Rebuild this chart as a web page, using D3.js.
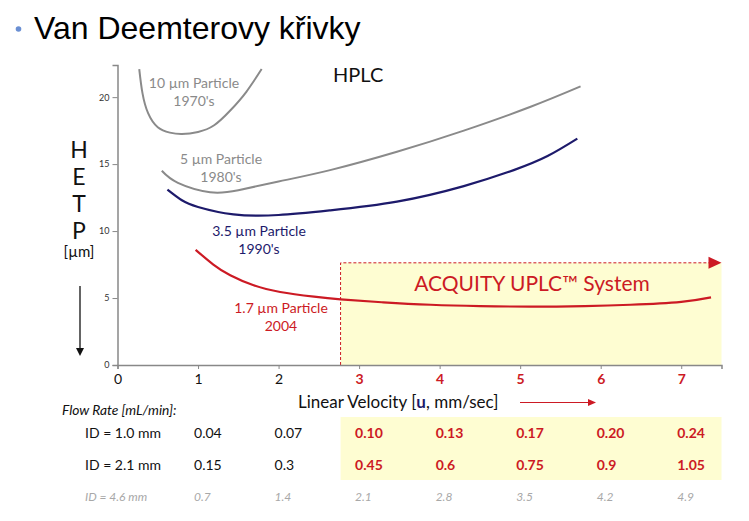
<!DOCTYPE html>
<html>
<head>
<meta charset="utf-8">
<script src="https://cdn.jsdelivr.net/npm/d3@7"></script>
<style>
  body { margin: 0; background: #fff; }
  svg { display: block; }
  .chart-text { font-family: Lato, "Open Sans", sans-serif; }
</style>
</head>
<body>
<svg id="chart"></svg>
<script>

// axis ticks
var xTicks = [0, 1, 2, 3, 4, 5, 6, 7];
var yTicks = [0, 5, 10, 15, 20];

// van deemter curves [linear velocity, HETP]
var curve10 = [[0.27, 22.1], [0.31, 20.3], [0.38, 18.8], [0.50, 17.75], [0.65, 17.35], [0.80, 17.25],
    [1.0, 17.4], [1.2, 17.9], [1.4, 19.0], [1.6, 20.4], [1.79, 22.1]];
var curve5 = [[0.55, 14.5], [0.75, 13.6], [1.15, 12.9], [1.5, 13.05], [2.0, 13.7], [2.64, 14.55],
    [3.47, 15.92], [4.30, 17.5], [5.13, 19.28], [5.75, 20.8]];
var curve35 = [[0.62, 13.1], [0.8, 12.3], [1.0, 11.8], [1.44, 11.25], [2.0, 11.2], [2.64, 11.55],
    [3.47, 12.2], [4.30, 13.36], [4.92, 14.55], [5.34, 15.6], [5.71, 16.9]];
var curve17 = [[0.97, 8.6], [1.19, 7.5], [1.40, 6.7], [1.69, 5.95], [2.02, 5.45], [2.44, 5.1], [2.77, 4.9],
    [3.3, 4.68], [3.89, 4.5], [4.5, 4.4], [5.13, 4.36], [5.8, 4.4], [6.37, 4.5], [7.0, 4.72], [7.37, 5.05]];

// flow rate table rows (one value per velocity tick 1..7)
var flowVelocities = [1, 2, 3, 4, 5, 6, 7];
var flowId10 = ["0.04", "0.07", "0.10", "0.13", "0.17", "0.20", "0.24"];
var flowId21 = ["0.15", "0.3", "0.45", "0.6", "0.75", "0.9", "1.05"];
var flowId46 = ["0.7", "1.4", "2.1", "2.8", "3.5", "4.2", "4.9"];

// UPLC region starts at this velocity
var uplcStart = 2.77;
var uplcTop = 7.63;

var red = "#cc1a24";
var navy = "#1d1a6b";
var gray = "#8a8a8a";

var svg = d3.select('#chart')
    .attr("width", 749)
    .attr("height", 521);

// title
svg.append("circle")
    .attr("cx", 18.5).attr("cy", 29).attr("r", 2.8)
    .attr("fill", "#6a8fd3");
svg.append("text")
    .text("Van Deemterovy křivky")
    .attr("x", 34).attr("y", 39)
    .attr("font-family", "'Liberation Sans', Arial, sans-serif")
    .attr("font-size", "32px")
    .attr("fill", "#000");

// scales
var xScale = d3.scaleLinear().domain([0, 7.5]).range([117.5, 721.5]);
var yScale = d3.scaleLinear().domain([0, 22.4]).range([365, 65]);

var g = svg.append("g").attr("class", "chart-text");

// UPLC region box
g.append("rect")
    .attr("x", xScale(uplcStart))
    .attr("y", yScale(uplcTop))
    .attr("width", xScale(7.5) - xScale(uplcStart))
    .attr("height", yScale(0) - yScale(uplcTop))
    .attr("fill", "#fefdd2");
g.append("path")
    .attr("d", "M" + xScale(uplcStart) + "," + yScale(0) + "V" + yScale(uplcTop) + "H" + (xScale(7.5) - 12))
    .attr("fill", "none")
    .attr("stroke", red)
    .attr("stroke-width", 1)
    .attr("stroke-dasharray", "3,2");
g.append("path")
    .attr("d", "M" + (xScale(7.5) - 13) + "," + (yScale(uplcTop) - 6) + "L" + xScale(7.5) + "," + yScale(uplcTop)
        + "L" + (xScale(7.5) - 13) + "," + (yScale(uplcTop) + 6) + "Z")
    .attr("fill", red);

// table highlight band
g.append("rect")
    .attr("x", xScale(uplcStart))
    .attr("y", 417)
    .attr("width", xScale(7.5) - xScale(uplcStart))
    .attr("height", 63)
    .attr("fill", "#fefdd2");

// axes
var axisBottom = d3.axisBottom(xScale).tickValues(xTicks).tickSize(4).tickPadding(5).tickFormat(d3.format("d"));
var gx = g.append("g")
    .attr("transform", "translate(0," + yScale(0) + ")")
    .call(axisBottom);
gx.select(".domain").attr("stroke", "#888").attr("stroke-width", 1.5);
gx.selectAll(".tick line").attr("stroke", "#888");
gx.selectAll(".tick text")
    .attr("font-family", "Lato, sans-serif")
    .attr("font-size", "14px")
    .attr("fill", function (d) { return d >= 3 ? red : "#111"; })
    .attr("font-weight", function (d) { return d >= 3 ? "bold" : "normal"; });

var axisLeft = d3.axisLeft(yScale).tickValues(yTicks).tickSize(5).tickPadding(3);
var gy = g.append("g")
    .attr("transform", "translate(" + xScale(0) + ",0)")
    .call(axisLeft);
gy.select(".domain").attr("stroke", "#888").attr("stroke-width", 1.5);
gy.selectAll(".tick line").attr("stroke", "#888");
gy.selectAll(".tick text")
    .attr("font-family", "Lato, sans-serif")
    .attr("font-size", "9px")
    .attr("fill", "#333");

// curves
var line = d3.line()
    .x(function (d) { return xScale(d[0]); })
    .y(function (d) { return yScale(d[1]); })
    .curve(d3.curveNatural);

var curves = [
    { data: curve10, color: gray, width: 2 },
    { data: curve5, color: gray, width: 2 },
    { data: curve35, color: navy, width: 2.2 },
    { data: curve17, color: red, width: 2.2 }
];
g.selectAll("path.curve")
    .data(curves)
    .enter()
    .append("path")
    .attr("class", "curve")
    .attr("d", function (d) { return line(d.data); })
    .attr("fill", "none")
    .attr("stroke", function (d) { return d.color; })
    .attr("stroke-width", function (d) { return d.width; });

// curve labels
var labels = [
    { lines: ["10 \u00b5m Particle", "1970's"], x: 194, y: 88, color: gray },
    { lines: ["5 \u00b5m Particle", "1980's"], x: 221, y: 164, color: gray },
    { lines: ["3.5 \u00b5m Particle", "1990's"], x: 259, y: 236, color: navy },
    { lines: ["1.7 \u00b5m Particle", "2004"], x: 281, y: 313, color: red }
];
labels.forEach(function (l) {
    var t = g.append("text")
        .attr("text-anchor", "middle")
        .attr("font-size", "14px")
        .attr("fill", l.color);
    l.lines.forEach(function (s, i) {
        t.append("tspan").attr("x", l.x).attr("y", l.y + i * 17.5).text(s);
    });
});

g.append("text").text("HPLC")
    .attr("x", 333).attr("y", 82)
    .attr("font-size", "20px").attr("fill", "#111");

g.append("text").text("ACQUITY UPLC\u2122 System")
    .attr("x", 532).attr("y", 291)
    .attr("text-anchor", "middle")
    .attr("font-size", "21px").attr("fill", red);

// y label
var yLetters = ["H", "E", "T", "P"];
g.selectAll("text.ylab")
    .data(yLetters)
    .enter()
    .append("text")
    .attr("class", "ylab")
    .text(function (d) { return d; })
    .attr("x", 79)
    .attr("y", function (d, i) { return 158 + i * 27; })
    .attr("text-anchor", "middle")
    .attr("font-size", "23px")
    .attr("fill", "#111");
g.append("text").text("[\u00b5m]")
    .attr("x", 79).attr("y", 257)
    .attr("text-anchor", "middle")
    .attr("font-size", "15px").attr("fill", "#111");

// down arrow
g.append("line")
    .attr("x1", 80).attr("y1", 286).attr("x2", 80).attr("y2", 350)
    .attr("stroke", "#111").attr("stroke-width", 1.3);
g.append("path")
    .attr("d", "M76,348 L80,356 L84,348 Z")
    .attr("fill", "#111");

// x label
var xlab = g.append("text")
    .attr("x", 298).attr("y", 408)
    .attr("font-size", "17px").attr("fill", "#111");
xlab.append("tspan").text("Linear Velocity [");
xlab.append("tspan").text("u").attr("font-weight", "bold").attr("fill", navy);
xlab.append("tspan").text(", mm/sec]");

g.append("line")
    .attr("x1", 520).attr("y1", 402.5).attr("x2", 590).attr("y2", 402.5)
    .attr("stroke", red).attr("stroke-width", 1.2);
g.append("path")
    .attr("d", "M588,399 L596,402.5 L588,406 Z")
    .attr("fill", red);

// flow rate table
g.append("text").text("Flow Rate [mL/min]:")
    .attr("x", 62).attr("y", 415)
    .attr("font-size", "13.8px").attr("font-style", "italic").attr("fill", "#111");

var rows = [
    { label: "ID = 1.0 mm", values: flowId10, y: 438, size: 14, italic: false, color: "#111" },
    { label: "ID = 2.1 mm", values: flowId21, y: 470, size: 14, italic: false, color: "#111" },
    { label: "ID = 4.6 mm", values: flowId46, y: 501, size: 12, italic: true, color: "#a8a8a8" }
];
rows.forEach(function (r) {
    g.append("text").text(r.label)
        .attr("x", 85).attr("y", r.y)
        .attr("font-size", r.size + "px")
        .attr("font-style", r.italic ? "italic" : "normal")
        .attr("fill", r.color);
    g.selectAll(null)
        .data(r.values)
        .enter()
        .append("text")
        .text(function (d) { return d; })
        .attr("x", function (d, i) { return xScale(flowVelocities[i]) - 4; })
        .attr("y", r.y)
        .attr("font-size", r.size + "px")
        .attr("font-style", r.italic ? "italic" : "normal")
        .attr("font-weight", function (d, i) { return !r.italic && flowVelocities[i] >= 3 ? "bold" : "normal"; })
        .attr("fill", function (d, i) { return !r.italic && flowVelocities[i] >= 3 ? red : r.color; });
});

</script>
</body>
</html>
